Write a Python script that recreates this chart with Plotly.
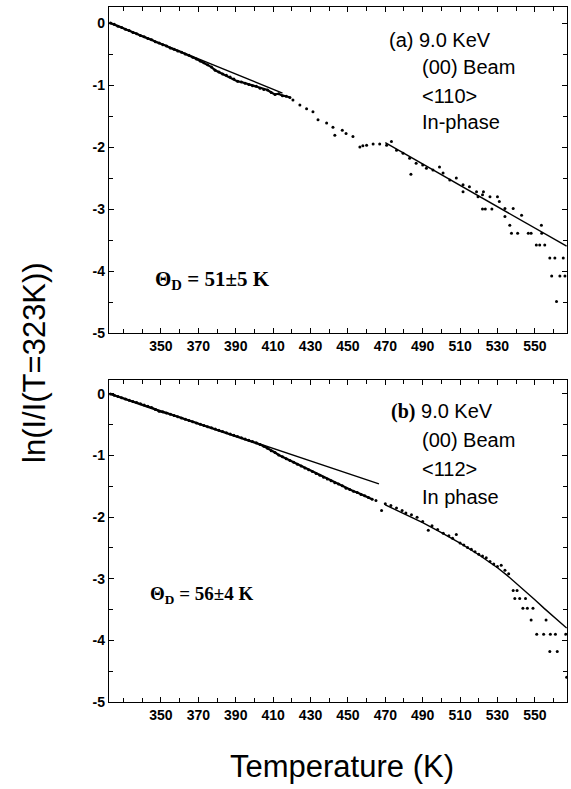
import plotly.graph_objects as go

# ---------------- data ----------------
# panel (a): <110>  -- dense scan part
a_dense_T = [323, 325, 327, 329, 331, 333, 335, 337, 339, 341, 343, 345, 347, 349, 351, 353, 355,
             357, 359, 361, 363, 365, 367, 369, 371, 373, 375, 377, 379, 381, 383, 385, 387, 389,
             391, 393, 395, 397, 399, 401, 403, 405, 407, 409, 411, 413, 415, 417, 419]
a_dense_y = [0.00, -0.02, -0.05, -0.07, -0.10, -0.12, -0.15, -0.17, -0.20, -0.22, -0.25, -0.27,
             -0.30, -0.32, -0.35, -0.37, -0.40, -0.42, -0.45, -0.47, -0.50, -0.52, -0.55, -0.58,
             -0.61, -0.64, -0.67, -0.71, -0.76, -0.79, -0.82, -0.84, -0.87, -0.90, -0.94, -0.95,
             -0.97, -0.99, -1.01, -1.02, -1.05, -1.07, -1.08, -1.12, -1.15, -1.14, -1.17, -1.18,
             -1.20]
# panel (a): scattered part
a_T = [420.6, 424.3, 427.9, 431.3, 434, 438.6, 442, 443, 447, 449, 452.7, 456.4, 458, 460, 463.5,
       467, 470.7, 473.3, 476, 479.5, 483, 483.7, 486.5, 490, 492, 495.5, 499, 500.9, 504.5, 508,
       511.6, 511.6, 515, 518.8, 519.6, 522, 522.5, 526, 522, 523.5, 527, 530, 531, 534, 534,
       536.6, 537.5, 540.8, 546.5, 548, 553.7, 538.4, 542.9, 550.8, 552.6, 555.3, 553.5, 558,
       560.7, 565.2, 559, 563.4, 566.1, 561.6]
a_y = [-1.24, -1.32, -1.38, -1.43, -1.56, -1.61, -1.68, -1.81, -1.73, -1.78, -1.83, -2.00, -1.98,
       -1.97, -1.95, -1.95, -1.97, -1.91, -2.05, -2.10, -2.18, -2.44, -2.26, -2.29, -2.34, -2.37,
       -2.32, -2.42, -2.53, -2.50, -2.61, -2.72, -2.64, -2.72, -2.80, -2.77, -2.72, -2.80, -3.00,
       -3.00, -3.00, -2.80, -2.88, -2.99, -3.12, -3.26, -3.39, -3.39, -3.39, -3.39, -3.39, -2.99,
       -3.10, -3.58, -3.58, -3.58, -3.26, -3.79, -3.79, -3.79, -4.08, -4.08, -4.08, -4.49]
# fit lines in (a)
a_fit1_T = [323, 415]
a_fit1_y = [0.0, -1.13]
a_fit2_T = [470, 567]
a_fit2_y = [-1.93, -3.60]

# panel (b): <112>  -- dense scan part
b_dense_T = [323, 325, 327, 329, 331, 333, 335, 337, 339, 341, 343, 345, 347, 349, 351, 353, 355,
             357, 359, 361, 363, 365, 367, 369, 371, 373, 375, 377, 379, 381, 383, 385, 387, 389,
             391, 393, 395, 397, 399, 401, 403, 405, 407, 409, 411, 413, 415, 417, 419, 421, 423,
             425, 427, 429, 431, 433, 435, 437, 439, 441, 443, 445, 447, 449, 451, 453, 455, 457,
             459, 461, 463]
b_dense_y = [0.00, -0.02, -0.04, -0.06, -0.08, -0.10, -0.12, -0.14, -0.16, -0.18, -0.20, -0.22,
             -0.25, -0.28, -0.29, -0.31, -0.33, -0.35, -0.37, -0.39, -0.41, -0.43, -0.45, -0.47,
             -0.49, -0.51, -0.53, -0.55, -0.57, -0.59, -0.61, -0.63, -0.65, -0.67, -0.69, -0.71,
             -0.73, -0.75, -0.77, -0.79, -0.82, -0.85, -0.88, -0.92, -0.95, -0.99, -1.02, -1.05,
             -1.08, -1.11, -1.14, -1.17, -1.20, -1.23, -1.26, -1.29, -1.32, -1.35, -1.38, -1.41,
             -1.44, -1.46, -1.49, -1.53, -1.55, -1.58, -1.60, -1.63, -1.65, -1.68, -1.71]
# panel (b): scattered part
b_T = [465, 468, 470, 473, 476, 479, 481, 484, 487, 490, 493, 495, 498, 501, 504, 506, 508, 510,
       512, 514, 516, 518, 520, 522, 524, 526, 528, 530, 532, 534, 536,
       538.4, 540.5, 539.3, 541.9, 545, 543.6, 546, 549, 548, 556, 551, 554.7, 558.3, 561, 566.5,
       558, 562, 567]
b_y = [-1.73, -1.89, -1.78, -1.81, -1.85, -1.89, -1.93, -1.96, -2.00, -2.07, -2.21, -2.14, -2.20,
       -2.26, -2.30, -2.34, -2.28, -2.42, -2.45, -2.49, -2.52, -2.56, -2.60, -2.63, -2.66, -2.72,
       -2.76, -2.80, -2.78, -2.86, -2.92,
       -3.19, -3.19, -3.32, -3.32, -3.32, -3.48, -3.48, -3.48, -3.67, -3.67, -3.90, -3.90, -3.90,
       -3.90, -3.90, -4.18, -4.18, -4.60]
b_fit1_T = [323, 466.6]
b_fit1_y = [0.0, -1.46]
b_fit2_T = [470, 480, 490, 500, 510, 520, 530, 535, 540, 545, 550, 555, 560, 567]
b_fit2_y = [-1.80, -1.94, -2.09, -2.25, -2.42, -2.61, -2.82, -2.94, -3.07, -3.20, -3.34, -3.48,
            -3.62, -3.80]

x_tick_vals = [350, 370, 390, 410, 430, 450, 470, 490, 510, 530, 550]
x_tick_text = ["350", "370", "390", "410", "430", "450", "470", "490", "510", "530", "550"]
y_tick_vals = [0, -1, -2, -3, -4, -5]
y_tick_text = ["0", "-1", "-2", "-3", "-4", "-5"]

# ---------------- layout geometry ----------------
W, H = 571, 789
L, R, T, B = 109, 4, 7, 87
PW = W - L - R
PH = H - T - B
SANS = "Liberation Sans, Arial, Helvetica, sans-serif"
SERIF = "Liberation Serif, Times New Roman, serif"


def px(x):
    return (x - L) / PW


def py(y):
    return (H - B - y) / PH


fig = go.Figure()
mk = dict(color="black", size=3)
mk_dense = dict(color="black", size=3)
ln = dict(color="black", width=1.4)
ln_dense = dict(color="black", width=2.2)

fig.add_trace(go.Scatter(x=a_dense_T, y=a_dense_y, mode="lines+markers", marker=mk_dense,
                         line=ln_dense, xaxis="x", yaxis="y"))
fig.add_trace(go.Scatter(x=a_T, y=a_y, mode="markers", marker=mk, xaxis="x", yaxis="y"))
fig.add_trace(go.Scatter(x=a_fit1_T, y=a_fit1_y, mode="lines", line=ln, xaxis="x", yaxis="y"))
fig.add_trace(go.Scatter(x=a_fit2_T, y=a_fit2_y, mode="lines", line=ln, xaxis="x", yaxis="y"))
fig.add_trace(go.Scatter(x=b_dense_T, y=b_dense_y, mode="lines+markers", marker=mk_dense,
                         line=ln_dense, xaxis="x2", yaxis="y2"))
fig.add_trace(go.Scatter(x=b_T, y=b_y, mode="markers", marker=mk, xaxis="x2", yaxis="y2"))
fig.add_trace(go.Scatter(x=b_fit1_T, y=b_fit1_y, mode="lines", line=ln, xaxis="x2", yaxis="y2"))
fig.add_trace(go.Scatter(x=b_fit2_T, y=b_fit2_y, mode="lines", line=ln, xaxis="x2", yaxis="y2"))

tickfont = dict(family=SANS, size=14, color="black", weight="bold")
xcommon = dict(range=[322.2, 567.2], tickvals=x_tick_vals, ticktext=x_tick_text,
               ticks="inside", ticklen=5, tickwidth=1, tickcolor="black",
               minor=dict(tickvals=list(range(330, 567, 10)), ticks="inside", ticklen=4,
                          tickcolor="black", tickwidth=1, showgrid=False),
               showline=True, linecolor="black", linewidth=1.3, mirror="allticks",
               showgrid=False, zeroline=False, tickfont=tickfont, fixedrange=True)
ycommon = dict(tickvals=y_tick_vals, ticktext=y_tick_text,
               ticks="inside", ticklen=5, tickwidth=1, tickcolor="black",
               minor=dict(tickvals=[-0.5, -1.5, -2.5, -3.5, -4.5], ticks="inside", ticklen=4,
                          tickcolor="black", tickwidth=1, showgrid=False),
               showline=True, linecolor="black", linewidth=1.3, mirror="allticks",
               showgrid=False, zeroline=False, tickfont=tickfont, fixedrange=True)

top_lo = py(333)
bot_hi = py(380)
fig.update_layout(
    width=W, height=H,
    margin=dict(l=L, r=R, t=T, b=B, pad=0),
    paper_bgcolor="white", plot_bgcolor="white",
    showlegend=False,
    xaxis=dict(domain=[0, 1], anchor="y", **xcommon),
    yaxis=dict(domain=[top_lo, 1], anchor="x", range=[-5, 0.26], **ycommon),
    xaxis2=dict(domain=[0, 1], anchor="y2", **xcommon),
    yaxis2=dict(domain=[0, bot_hi], anchor="x2", range=[-5, 0.227], **ycommon),
)

ann = []


def txt(x, y, s, family=SANS, size=20, anchor="left", angle=0):
    ann.append(dict(x=px(x), y=py(y), xref="paper", yref="paper", text=s, showarrow=False,
                    xanchor=anchor, yanchor="middle", textangle=angle,
                    font=dict(family=family, size=size, color="black")))


# panel (a) labels
txt(387, 40, "(a) 9.0 KeV")
txt(420, 67, "(00) Beam")
txt(420, 96, "&lt;110&gt;")
txt(420, 122, "In-phase")
txt(153, 280, "<b>Θ<sub>D</sub> = 51±5 K</b>", family=SERIF, size=21)
# panel (b) labels
txt(389, 412, "<span style='font-family:Liberation Serif'><b>(b)</b></span> 9.0 KeV")
txt(420, 440, "(00) Beam")
txt(420, 469, "&lt;112&gt;")
txt(420, 497, "In phase")
txt(148, 595, "<b>Θ<sub>D</sub> = 56±4 K</b>", family=SERIF, size=19)
# axis titles
txt(34, 363, "ln(I/I(T=323K))", size=31, anchor="center", angle=-90)
txt(342, 766, "Temperature (K)", size=31, anchor="center")

fig.update_layout(annotations=ann)
fig.write_html("out.html", config={"displayModeBar": False},
               post_script="document.body.style.margin='0';document.body.style.padding='0';"
                           "document.documentElement.style.overflow='hidden';")
